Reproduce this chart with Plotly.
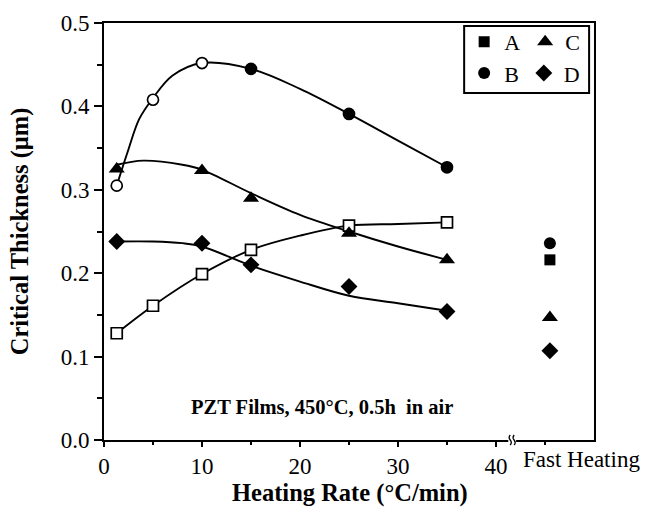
import plotly.graph_objects as go

# ---------------- data ----------------
rates = [1.3, 5, 10, 15, 25, 35]
rates_cd = [1.3, 10, 15, 25, 35]
fast_x = 45.5

thick_A_open = [0.128, 0.161, 0.199, 0.228, 0.257, 0.261]
thick_B = [0.305, 0.408, 0.452, 0.445, 0.391, 0.327]
B_open = [True, True, True, False, False, False]
thick_C = [0.325, 0.323, 0.290, 0.248, 0.216]
thick_D = [0.238, 0.236, 0.210, 0.184, 0.154]

fast_labels = ["A", "B", "C", "D"]
fast_thick = [0.216, 0.236, 0.147, 0.107]

# smooth guide curves
fit_A_x = [1.3, 5, 10, 15, 20, 25, 30, 35]
fit_A_y = [0.128, 0.161, 0.199, 0.228, 0.245, 0.257, 0.259, 0.261]
fit_B_x = [1.3, 2.4, 3.6, 5, 7, 10, 15, 20, 25, 30, 35]
fit_B_y = [0.305, 0.345, 0.385, 0.410, 0.437, 0.452, 0.445, 0.421, 0.391, 0.359, 0.327]
fit_C_x = [1.3, 4, 8, 10, 15, 20, 25, 30, 35]
fit_C_y = [0.330, 0.335, 0.330, 0.324, 0.296, 0.270, 0.250, 0.232, 0.216]
fit_D_x = [1.3, 5, 8, 10, 15, 20, 25, 30, 35]
fit_D_y = [0.238, 0.238, 0.236, 0.232, 0.209, 0.190, 0.173, 0.164, 0.155]

x_ticks = [0, 10, 20, 30, 40]
x_minor = [5, 15, 25, 35, 45]
y_ticks = [0.0, 0.1, 0.2, 0.3, 0.4, 0.5]

# ---------------- figure ----------------
SERIF = "Liberation Serif"
fig = go.Figure()

line_style = dict(color="black", width=1.9, shape="spline", smoothing=1.0)
for fx, fy in [(fit_A_x, fit_A_y), (fit_B_x, fit_B_y), (fit_C_x, fit_C_y), (fit_D_x, fit_D_y)]:
    fig.add_trace(go.Scatter(x=fx, y=fy, mode="lines", line=line_style,
                             showlegend=False, hoverinfo="skip"))

# open squares
fig.add_trace(go.Scatter(x=rates, y=thick_A_open, mode="markers", showlegend=False,
                         marker=dict(symbol="square", size=11, color="white",
                                     line=dict(color="black", width=1.7))))
# B (open for first points, filled later)
fig.add_trace(go.Scatter(x=rates, y=thick_B, mode="markers", showlegend=False,
                         marker=dict(symbol="circle", size=11,
                                     color=["white" if o else "black" for o in B_open],
                                     line=dict(color="black", width=1.7))))
# C and D slow-rate points
fig.add_trace(go.Scatter(x=rates_cd, y=thick_C, mode="markers", showlegend=False,
                         marker=dict(symbol="triangle-up", size=14, color="black",
                                     line=dict(width=0))))
fig.add_trace(go.Scatter(x=rates_cd, y=thick_D, mode="markers", showlegend=False,
                         marker=dict(symbol="diamond", size=13, color="black",
                                     line=dict(width=0))))

# fast heating points (legend entries)
sym = {"A": ("square", 11), "B": ("circle", 12), "C": ("triangle-up", 14), "D": ("diamond", 13)}
leg = {"A": "legend", "C": "legend", "B": "legend2", "D": "legend2"}
order = ["A", "C", "B", "D"]
for lab in order:
    i = fast_labels.index(lab)
    s, sz = sym[lab]
    fig.add_trace(go.Scatter(x=[fast_x], y=[fast_thick[i]], mode="markers", name=lab,
                             legend=leg[lab],
                             marker=dict(symbol=s, size=sz, color="black", line=dict(width=0))))

legend_common = dict(orientation="h", xanchor="left", yanchor="top",
                     bgcolor="rgba(0,0,0,0)", borderwidth=0,
                     font=dict(family=SERIF, size=22, color="black"),
                     tracegroupgap=0)
fig.update_layout(
    legend=dict(x=0.735, y=1.005, **legend_common),
    legend2=dict(x=0.735, y=0.930, **legend_common),
)

axis_common = dict(showgrid=False, zeroline=False, showline=True, linecolor="black",
                   linewidth=1.7, mirror=True, ticks="outside", tickcolor="black",
                   tickwidth=1.5, tickfont=dict(family=SERIF, size=23, color="black"))

fig.update_xaxes(range=[0, 50], tickmode="array", tickvals=x_ticks,
                 ticktext=[str(v) for v in x_ticks], ticklen=5,
                 minor=dict(tickvals=x_minor, ticks="outside", ticklen=3,
                            tickcolor="black", tickwidth=1.5),
                 **axis_common)
fig.update_yaxes(range=[0, 0.5], tickmode="array", tickvals=y_ticks,
                 ticktext=[f"{v:.1f}" for v in y_ticks], ticklen=8,
                 minor=dict(dtick=0.05, ticks="outside", ticklen=5,
                            tickcolor="black", tickwidth=1.5),
                 **axis_common)

# axis break marks on the x axis
shapes = [
    dict(type="rect", xref="x", yref="paper", x0=41.25, x1=42.05, y0=-0.012, y1=0.012,
         fillcolor="white", line=dict(width=0), layer="above"),
]
for xa in [41.45, 41.85]:
    shapes.append(dict(type="path", xref="x", yref="paper", layer="above",
                       path=f"M {xa},-0.012 Q {xa+0.22},-0.006 {xa},0 T {xa},0.012",
                       line=dict(color="black", width=1.3)))
# legend frame
shapes.append(dict(type="rect", xref="paper", yref="paper", x0=0.735, x1=0.990,
                   y0=0.832, y1=0.993, line=dict(color="black", width=2),
                   fillcolor="rgba(0,0,0,0)", layer="above"))
fig.update_layout(shapes=shapes)

annotations = [
    dict(text="Fast Heating", xref="x", yref="paper", x=42.6, y=0, xanchor="left",
         yanchor="top", yshift=-5, showarrow=False,
         font=dict(family=SERIF, size=23, color="black")),
    dict(text="<b>PZT Films, 450°C, 0.5h  in air</b>", xref="x", yref="y", x=22.2, y=0.040,
         xanchor="center", yanchor="middle", showarrow=False,
         font=dict(family=SERIF, size=20.5, color="black")),
    dict(text="<b>Heating Rate (°C/min)</b>", xref="paper", yref="paper", x=0.502, y=-0.127,
         xanchor="center", yanchor="middle", showarrow=False,
         font=dict(family=SERIF, size=24.5, color="black")),
    dict(text="<b>Critical Thickness (μm)</b>", xref="paper", yref="paper", x=-0.172, y=0.5,
         xanchor="center", yanchor="middle", textangle=-90, showarrow=False,
         font=dict(family=SERIF, size=24.5, color="black")),
]
fig.update_layout(annotations=annotations)

fig.update_layout(width=646, height=512, margin=dict(l=104, r=52, t=23, b=72),
                  paper_bgcolor="white", plot_bgcolor="white", showlegend=True)

fig.write_html("out.html")
